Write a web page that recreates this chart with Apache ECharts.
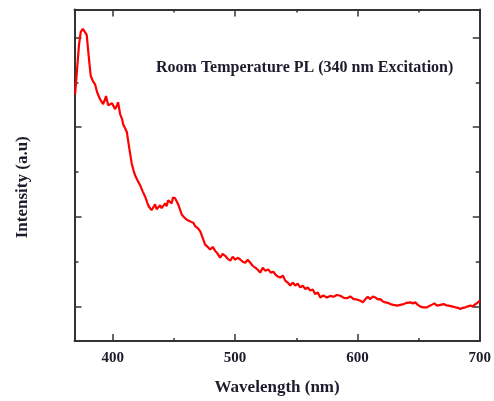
<!DOCTYPE html>
<html>
<head>
<meta charset="utf-8">
<script src="https://cdn.jsdelivr.net/npm/echarts@6/dist/echarts.min.js"></script>
<style>
  html, body { margin: 0; padding: 0; background: #fff; }
  #chart { width: 494px; height: 401px; }
</style>
</head>
<body>
<div id="chart"></div>
<script>
// PL spectrum (wavelength in nm, intensity in arbitrary units)
const wavelength = [
  369.2, 370.8, 372.4, 373.8, 375.5, 376.9, 378.7, 379.8, 381.0, 382.0,
  383.9, 385.5, 387.2, 389.6, 391.2, 392.1, 393.7, 394.5, 396.2, 397.8,
  399.4, 401.9, 403.5, 404.3, 406.0, 407.6, 408.4, 411.5, 413.3, 415.5,
  417.0, 418.2, 420.3, 422.3, 424.4, 426.4, 428.1, 429.3, 430.5, 431.7,
  433.2, 434.6, 435.8, 437.3, 438.7, 439.9, 441.4, 442.8, 444.0, 445.3,
  446.9, 448.1, 449.3, 451.0, 452.2, 453.7, 455.1, 456.5, 458.3, 460.6,
  463.3, 466.0, 467.3, 469.4, 471.4, 473.5, 475.5, 477.6, 479.6, 481.7,
  483.7, 485.8, 487.8, 489.8, 491.9, 493.9, 496.0, 498.0, 500.1, 502.1,
  504.2, 506.2, 508.3, 510.3, 512.4, 514.4, 516.4, 518.5, 520.5, 522.6,
  524.6, 527.1, 529.1, 531.2, 532.8, 534.9, 536.9, 539.0, 541.0, 543.0,
  545.1, 547.1, 549.2, 551.2, 553.3, 555.3, 557.4, 559.4, 561.5, 563.5,
  565.5, 567.6, 569.6, 572.1, 575.1, 577.8, 580.5, 583.1, 586.0, 588.9,
  591.5, 594.2, 596.9, 599.5, 602.4, 604.4, 606.5, 608.5, 610.6, 612.6,
  614.6, 616.7, 618.7, 620.8, 622.8, 624.9, 626.9, 629.4, 632.4, 635.1,
  637.8, 640.4, 643.3, 645.3, 647.4, 649.4, 651.5, 653.9, 656.9, 658.8,
  661.0, 662.9, 665.1, 667.8, 670.5, 672.7, 674.6, 677.2, 680.1, 682.1,
  684.2, 686.2, 688.3, 690.3, 692.4, 694.4, 696.5, 698.5, 700.0
];
const intensity = [
  3367, 3643, 3920, 4063, 4097, 4075, 4030, 3864, 3698, 3569,
  3510, 3477, 3389, 3311, 3333, 3256, 3311, 3348, 3245, 3223,
  3267, 3201, 3245, 3278, 3146, 3090, 3035, 2946, 2780, 2592,
  2515, 2463, 2404, 2352, 2283, 2227, 2161, 2117, 2131, 2073,
  2095, 2139, 2084, 2076, 2128, 2095, 2117, 2150, 2117, 2183,
  2187, 2150, 2216, 2205, 2172, 2131, 2073, 2021, 1995, 1965,
  1948, 1929, 1896, 1874, 1840, 1763, 1689, 1663, 1634, 1663,
  1619, 1586, 1542, 1586, 1564, 1531, 1509, 1553, 1520, 1542,
  1523, 1498, 1486, 1520, 1486, 1453, 1431, 1409, 1376, 1431,
  1398, 1412, 1376, 1387, 1357, 1332, 1321, 1343, 1287, 1265,
  1232, 1265, 1232, 1254, 1210, 1232, 1191, 1210, 1177, 1188,
  1136, 1155, 1099, 1121, 1099, 1116, 1107, 1127, 1118, 1094,
  1091, 1110, 1081, 1077, 1063, 1044, 1081, 1105, 1081, 1110,
  1099, 1077, 1081, 1055, 1044, 1039, 1025, 1016, 1008, 1016,
  1025, 1039, 1044, 1033, 1044, 1016, 997, 989, 989, 1005,
  1019, 1033, 1008, 1016, 1025, 1011, 1008, 1000, 989, 983,
  970, 983, 989, 1000, 1008, 1000, 1025, 1044, 1063
];

const xMajorTicks = [400, 500, 600, 700];
const xMinorTicks = [450, 550, 650];
const yMajorTicks = [1000, 2000, 3000, 4000];
const yMinorTicks = [1500, 2500, 3500];

const xRange = [368.7, 700];
const yRange = [613, 4313];

const axisColor = '#333';
const textColor = '#1c1c2c';
const serif = '"Liberation Serif", "Times New Roman", serif';

let chart = echarts.init(document.getElementById('chart'), null, {renderer: 'canvas'});

function xAxisOf(position, ticks, len, showLine, extra) {
  return Object.assign({
    type: 'value',
    position: position,
    min: xRange[0],
    max: xRange[1],
    axisLine: {show: showLine, onZero: false, lineStyle: {color: axisColor, width: 2}},
    axisTick: {show: true, inside: true, length: len, customValues: ticks, lineStyle: {color: axisColor, width: 1.5}},
    axisLabel: {show: false},
    splitLine: {show: false}
  }, extra || {});
};

function yAxisOf(position, ticks, len, showLine, extra) {
  return Object.assign({
    type: 'value',
    position: position,
    min: yRange[0],
    max: yRange[1],
    axisLine: {show: showLine, onZero: false, lineStyle: {color: axisColor, width: 2}},
    axisTick: {show: true, inside: true, length: len, customValues: ticks, lineStyle: {color: axisColor, width: 1.5}},
    axisLabel: {show: false},
    splitLine: {show: false}
  }, extra || {});
};

let option = {
  animation: false,
  backgroundColor: '#fff',
  title: {
    text: 'Room Temperature PL (340 nm Excitation)',
    left: 151,
    top: 55,
    textStyle: {fontFamily: serif, fontWeight: 'bold', fontSize: 16, color: textColor}
  },
  grid: {left: 74.5, right: 14, top: 9.5, bottom: 57},
  xAxis: [
    xAxisOf('bottom', xMajorTicks, 7, true, {
      name: 'Wavelength (nm)',
      nameLocation: 'middle',
      nameGap: 38,
      nameTextStyle: {fontFamily: serif, fontWeight: 'bold', fontSize: 17, color: textColor},
      axisLabel: {show: true, customValues: xMajorTicks, margin: 10, fontFamily: serif, fontWeight: 'bold', fontSize: 15, color: textColor}
    }),
    xAxisOf('bottom', xMinorTicks, 3, false),
    xAxisOf('top', xMajorTicks, 7, true),
    xAxisOf('top', xMinorTicks, 3, false)
  ],
  yAxis: [
    yAxisOf('left', yMajorTicks, 7, true, {
      name: 'Intensity (a.u)',
      nameLocation: 'middle',
      nameGap: 43,
      nameTextStyle: {fontFamily: serif, fontWeight: 'bold', fontSize: 17, color: textColor, padding: [0, 24, 0, 0]}
    }),
    yAxisOf('left', yMinorTicks, 4, false),
    yAxisOf('right', yMajorTicks, 7, true),
    yAxisOf('right', yMinorTicks, 4, false)
  ],
  series: [
    {
      type: 'line',
      xAxisIndex: 0,
      yAxisIndex: 0,
      data: wavelength.map((w, i) => [w, intensity[i]]),
      showSymbol: false,
      symbol: 'none',
      lineStyle: {color: '#ff0000', width: 2.2},
      itemStyle: {color: '#ff0000'}
    }
  ]
};

chart.setOption(option);
</script>
</body>
</html>
